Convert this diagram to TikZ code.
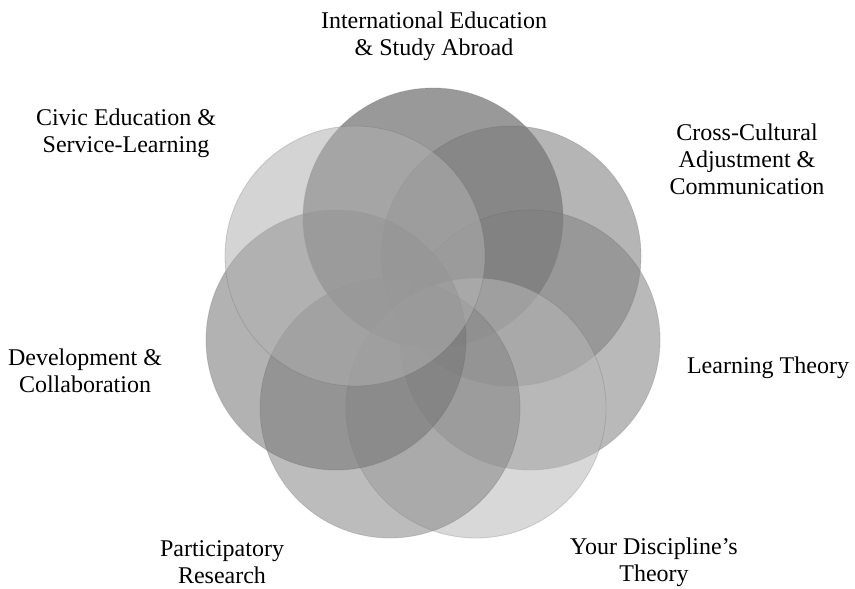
\documentclass[tikz,border=0pt]{standalone}
\usepackage{fontspec}
\setmainfont{Liberation Serif}
\begin{document}
\begin{tikzpicture}[x=0.5pt, y=-0.5pt,
    disc/.style={circle, minimum size=130pt, inner sep=0pt, fill opacity=0.55,
                 draw=black!60, draw opacity=0.25, line width=0.4pt},
    topic/.style={align=center, inner sep=0pt, font=\fontsize{12}{13.5}\selectfont}]
    \useasboundingbox (0,0) rectangle (855,588);

    % Overlapping circles, clockwise from the top
    \node[disc, fill=black!73] (intl) at (433,218) {};
    \node[disc, fill=black!53] (cross) at (511,256) {};
    \node[disc, fill=black!50] (learn) at (530,340) {};
    \node[disc, fill=black!28] (discipline) at (476,408) {};
    \node[disc, fill=black!48] (partic) at (390,408) {};
    \node[disc, fill=black!55] (devel) at (336,340) {};
    \node[disc, fill=black!31] (civic) at (355,256) {};

    % Labels
    \node[topic] (intl label) at (434,36) {International Education\\\& Study Abroad};
    \node[topic] (cross label) at (747,159) {Cross-Cultural\\Adjustment \&\\Communication};
    \node[topic] (learn label) at (768,368) {Learning Theory};
    \node[topic] (discipline label) at (654,562) {Your Discipline’s\\Theory};
    \node[topic] (partic label) at (222,562) {Participatory\\Research};
    \node[topic] (devel label) at (85,371) {Development \&\\Collaboration};
    \node[topic] (civic label) at (126,133) {Civic Education \&\\Service-Learning};
\end{tikzpicture}
\end{document}
